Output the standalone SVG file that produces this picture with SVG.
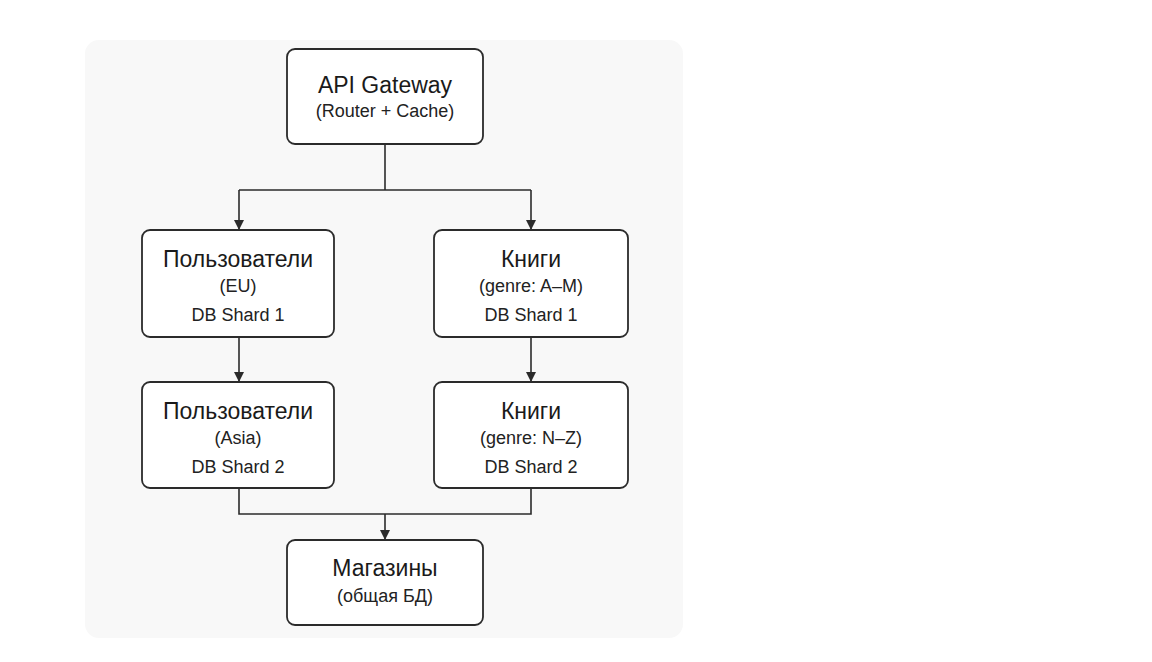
<svg xmlns="http://www.w3.org/2000/svg" width="1152" height="662" viewBox="0 0 1152 662">
  <style>
    .box { fill: #ffffff; stroke: #2b2b2b; stroke-width: 1.8; }
    .t { font-family: "Liberation Sans", Arial, sans-serif; font-size: 23px; fill: #1a1a1a; text-anchor: middle; }
    .s { font-family: "Liberation Sans", Arial, sans-serif; font-size: 18px; fill: #222222; text-anchor: middle; }
    .c { fill: none; stroke: #2b2b2b; stroke-width: 1.6; }
  </style>
  <defs>
    <marker id="arr" viewBox="0 0 10 10" refX="10" refY="5" markerWidth="10" markerHeight="10" markerUnits="userSpaceOnUse" orient="auto">
      <path d="M0,0 L10,5 L0,10 Z" fill="#2b2b2b"/>
    </marker>
  </defs>
  <rect width="1152" height="662" fill="#ffffff"/>
  <rect x="85" y="40" width="598" height="598" rx="14" fill="#f8f8f8"/>

  <g id="connectors">
    <path class="c" d="M385,144 V190"/>
    <path class="c" d="M239,190 H531"/>
    <path class="c" d="M239,190 V230" marker-end="url(#arr)"/>
    <path class="c" d="M531,190 V230" marker-end="url(#arr)"/>
    <path class="c" d="M239,337 V382" marker-end="url(#arr)"/>
    <path class="c" d="M531,337 V382" marker-end="url(#arr)"/>
    <path class="c" d="M239,488 V514 H531 V488"/>
    <path class="c" d="M385,514 V540" marker-end="url(#arr)"/>
  </g>

  <g id="api-gateway">
    <rect class="box" x="287" y="49" width="196" height="95" rx="8"/>
    <text class="t" x="385" y="93">API Gateway</text>
    <text class="s" x="385" y="117">(Router + Cache)</text>
  </g>

  <g id="users-eu">
    <rect class="box" x="142" y="230" width="192" height="107" rx="8"/>
    <text class="t" x="238" y="267">Пользователи</text>
    <text class="s" x="238" y="292">(EU)</text>
    <text class="s" x="238" y="321">DB Shard 1</text>
  </g>

  <g id="books-am">
    <rect class="box" x="434" y="230" width="194" height="107" rx="8"/>
    <text class="t" x="531" y="267">Книги</text>
    <text class="s" x="531" y="292">(genre: A–M)</text>
    <text class="s" x="531" y="321">DB Shard 1</text>
  </g>

  <g id="users-asia">
    <rect class="box" x="142" y="382" width="192" height="106" rx="8"/>
    <text class="t" x="238" y="419">Пользователи</text>
    <text class="s" x="238" y="444">(Asia)</text>
    <text class="s" x="238" y="473">DB Shard 2</text>
  </g>

  <g id="books-nz">
    <rect class="box" x="434" y="382" width="194" height="106" rx="8"/>
    <text class="t" x="531" y="419">Книги</text>
    <text class="s" x="531" y="444">(genre: N–Z)</text>
    <text class="s" x="531" y="473">DB Shard 2</text>
  </g>

  <g id="shops">
    <rect class="box" x="287" y="540" width="196" height="85" rx="8"/>
    <text class="t" x="385" y="576">Магазины</text>
    <text class="s" x="385" y="602">(общая БД)</text>
  </g>
</svg>
